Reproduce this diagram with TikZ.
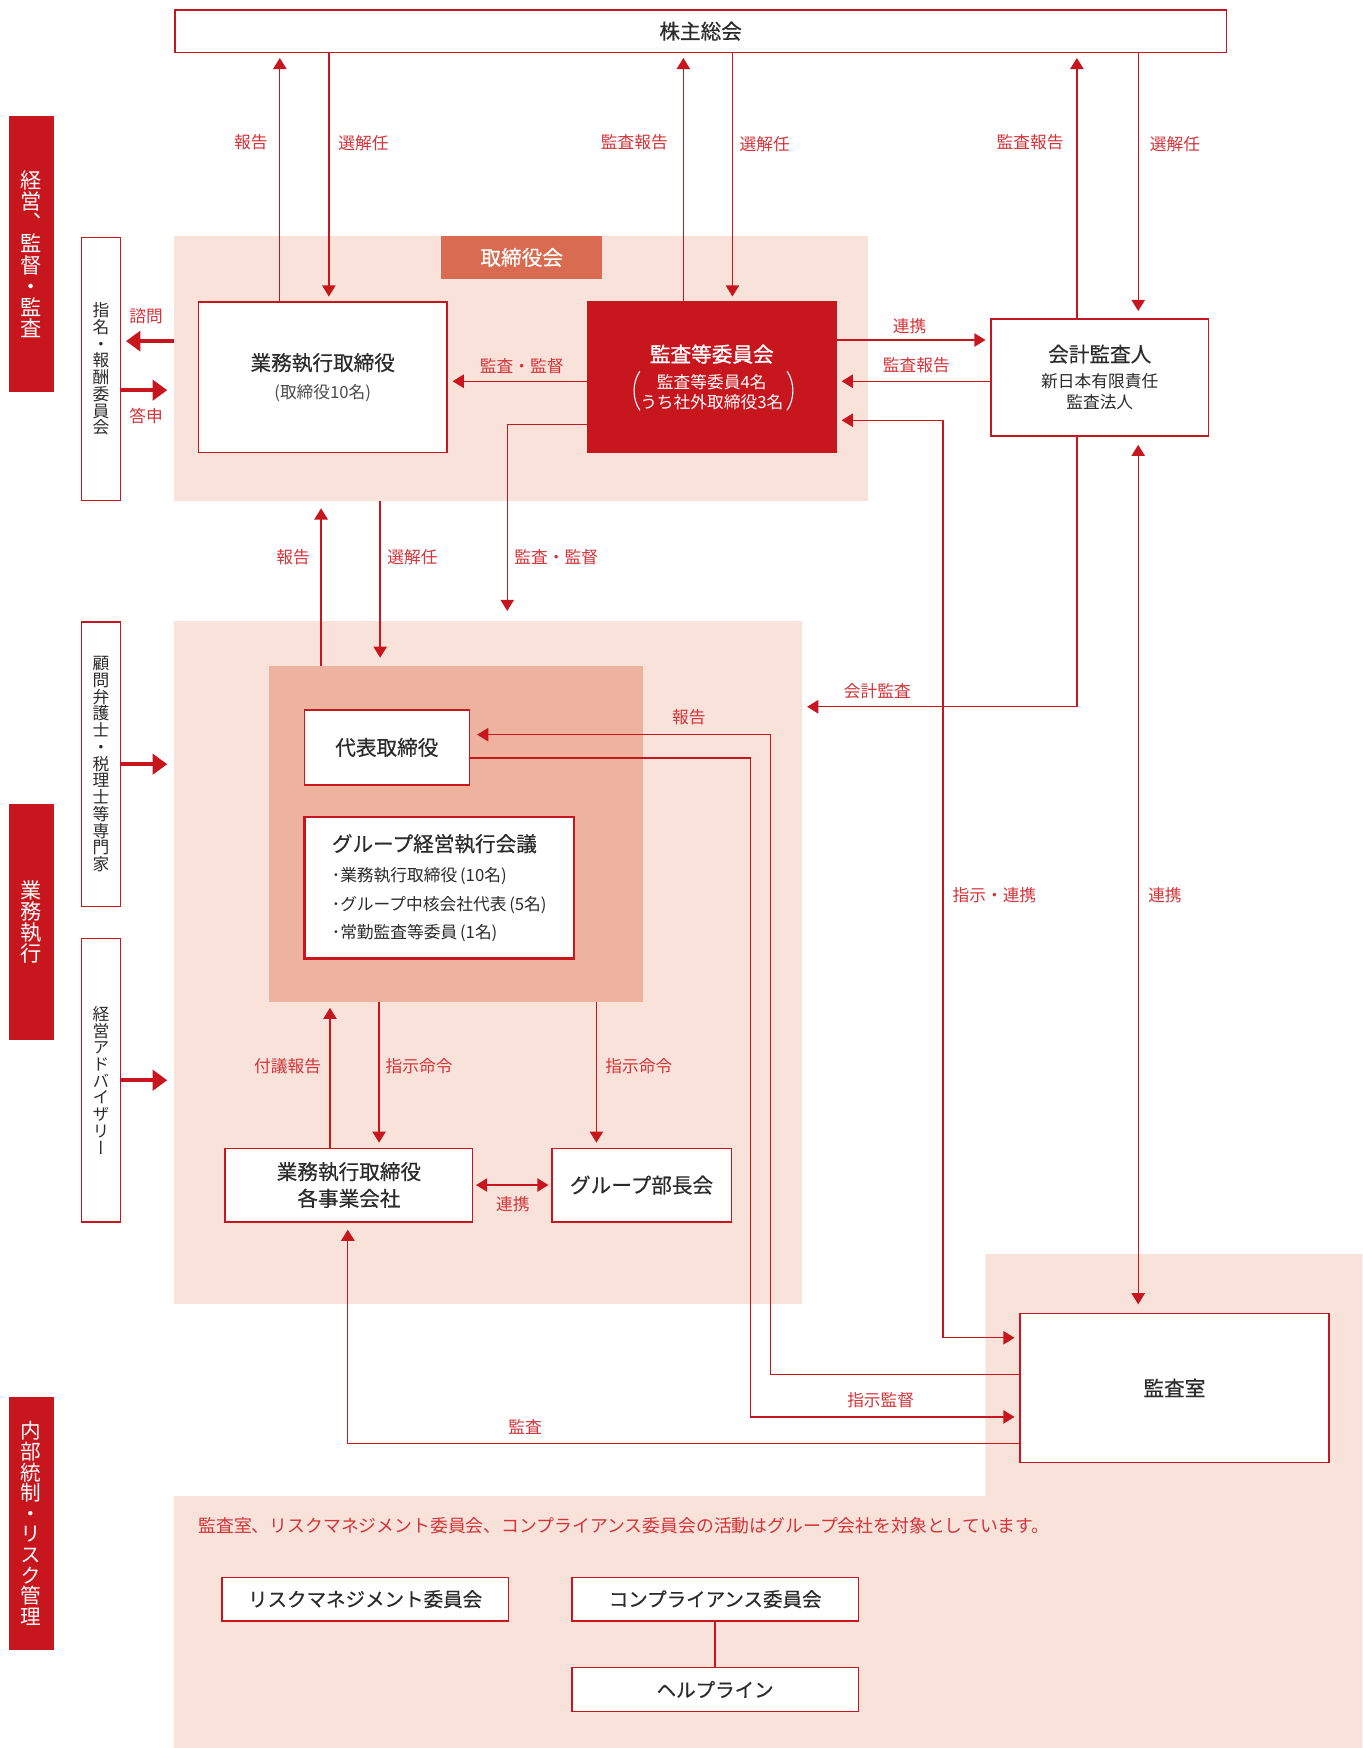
\documentclass[tikz,border=0pt]{standalone}
\usepackage{fontspec}
\setmainfont{Noto Sans CJK JP}
\newfontfamily\vjp[RawFeature=+vert]{Noto Sans CJK JP}
\newfontfamily\jpt[FakeBold=0.4]{Noto Sans CJK JP}
\newfontfamily\jptb[FakeBold=1.2]{Noto Sans CJK JP}
\usetikzlibrary{arrows.meta,calc}
\definecolor{mred}{HTML}{C8161E}
\definecolor{lred}{HTML}{D2343A}
\definecolor{lpink}{HTML}{F8E2D9}
\definecolor{salmon}{HTML}{EEB39E}
\definecolor{orng}{HTML}{D96B50}
\definecolor{dtext}{HTML}{2B2B2B}
\newcommand\jfs[1]{\fontsize{#1}{#1}\selectfont}
\ExplSyntaxOn
\seq_new:N \l_vs_seq
\NewDocumentCommand\vstack{m}{
  \seq_clear:N \l_vs_seq
  \tl_map_inline:nn {#1} { \seq_put_right:Nn \l_vs_seq {##1} }
  \seq_use:Nn \l_vs_seq {\\}
}
\ExplSyntaxOff
\begin{document}
\begin{tikzpicture}[x=1pt,y=-1pt,
  every node/.style={outer sep=0pt, inner sep=0pt},
  region/.style={fill=#1},
  box/.style={draw=mred, line width=1.3pt, fill=white, text=dtext, align=center},
  band/.style={fill=mred, text=white, align=center, minimum width=40},
  arr/.style={draw=mred, line width=1.2pt, -{Triangle[width=12pt,length=10pt]}, shorten >=5pt},
  darr/.style={draw=mred, line width=1.2pt, {Triangle[width=12pt,length=10pt]}-{Triangle[width=12pt,length=10pt]}, shorten >=5pt, shorten <=5pt},
  tarr/.style={draw=mred, line width=4pt, -{Triangle[width=18pt,length=13pt]}, shorten >=6pt},
  lbl/.style={text=lred, font=\jfs{15}}
]
\useasboundingbox (0,0) rectangle (1222,1568);
\fill[white] (0,0) rectangle (1222,1568);

% regions
\node[region=lpink, minimum width=623, minimum height=237] (boardreg) at (467.5,330.5) {};
\node[region=orng, minimum width=144, minimum height=38, text=white, font={\jpt\jfs{18.5}}] (boardlbl) at (468,231) {取締役会};
\node[region=lpink, minimum width=563, minimum height=613] (execreg) at (437.5,863.5) {};
\node[region=salmon, minimum width=336, minimum height=302] (inner) at (409,748) {};
\fill[lpink] (884,1125) -- (1222,1125) -- (1222,1568) -- (156,1568) -- (156,1342) -- (884,1342) -- cycle;

% left bands
\node[band, minimum height=248, font={\vjp\jfs{19}}] (band1) at (28,228) {\vstack{経営、監督・監査}};
\node[band, minimum height=212, font={\vjp\jfs{19}}] (band2) at (28,827) {\vstack{業務執行}};
\node[band, minimum height=227, font={\vjp\jfs{18.5}}] (band3) at (28,1366.5) {\vstack{内部統制・リスク管理}};

% vertical boxes
\node[box, minimum width=35, minimum height=236, font={\vjp\jfs{15}}] (nom) at (90.5,331) {\vstack{指名・報酬委員会}};
\node[box, minimum width=35, minimum height=255, font={\vjp\jfs{15}}] (adv) at (90.5,685.5) {\vstack{顧問弁護士・税理士等専門家}};
\node[box, minimum width=35, minimum height=254, font={\vjp\jfs{15}}] (madv) at (90.5,969) {\vstack{経営アドバイザリー}};

% main boxes
\node[box, minimum width=943, minimum height=38, font={\jpt\jfs{18.5}}] (agm) at (628.5,28) {株主総会};
\node[box, minimum width=223, minimum height=135, font={\fontsize{15}{19}\selectfont}] (exec) at (289.5,338.5)
  {{\jpt\jfs{18.5}業務執行取締役}\\[6pt]{\color{dtext!85}(取締役10名)}};
\node[box, draw=mred, fill=mred, text=white, minimum width=223, minimum height=135, font={\fontsize{15}{19}\selectfont}] (audc) at (638.5,338.5)
  {{\jptb\jfs{18.5}監査等委員会}\\[5pt]監査等委員4名\\[-1pt]うち社外取締役3名};
\node[box, minimum width=195, minimum height=105, font={\fontsize{15}{19}\selectfont}] (acct) at (986.5,338.5)
  {{\jpt\jfs{18.5}会計監査人}\\[4pt]新日本有限責任\\監査法人};
\node[box, minimum width=148, minimum height=67, font={\jpt\jfs{18.5}}] (rep) at (347,670.5) {代表取締役};
\node[box, line width=2.4pt, minimum width=242, minimum height=127, align=left, font={\fontsize{15}{25.5}\selectfont}] (gmc) at (394,796.5)
  {{\jpt\jfs{18.5}グループ経営執行会議}\\[1.5pt]･業務執行取締役\,(10名)\\･グループ中核会社代表\,(5名)\\･常勤監査等委員\,(1名)};
\node[box, minimum width=222, minimum height=66, font={\jpt\fontsize{18.5}{24}\selectfont}] (biz) at (313,1063) {業務執行取締役\\各事業会社};
\node[box, minimum width=161, minimum height=66, font={\jpt\jfs{18.5}}] (gdm) at (575.5,1063) {グループ部長会};
\node[box, minimum width=277, minimum height=134, font={\jpt\jfs{18.5}}] (audr) at (1053.5,1245) {監査室};
\node[box, minimum width=257, minimum height=39, font={\jpt\jfs{17.5}}] (risk) at (327.5,1434.5) {リスクマネジメント委員会};
\node[box, minimum width=257, minimum height=39, font={\jpt\jfs{17.5}}] (comp) at (641.5,1434.5) {コンプライアンス委員会};
\node[box, minimum width=257, minimum height=39, font={\jpt\jfs{17.5}}] (help) at (641.5,1515.5) {ヘルプライン};

% parentheses in audc
\draw[white, line width=1pt] (574,333) .. controls (567,343) and (567,358) .. (574,368);
\draw[white, line width=1pt] (706,333) .. controls (713,343) and (713,358) .. (706,368);

% top arrows
\draw[arr] ([xshift=-38.5pt]exec.north) -- ([xshift=-38.5pt]exec.north |- agm.south);
\draw[arr] ([xshift=5.5pt]exec.north |- agm.south) -- ([xshift=5.5pt]exec.north);
\draw[arr] ([xshift=-25.5pt]audc.north) -- ([xshift=-25.5pt]audc.north |- agm.south);
\draw[arr] ([xshift=18.5pt]audc.north |- agm.south) -- ([xshift=18.5pt]audc.north);
\draw[arr] ([xshift=-20.5pt]acct.north) -- ([xshift=-20.5pt]acct.north |- agm.south);
\draw[arr, shorten >=7pt] ([xshift=34.5pt]acct.north |- agm.south) -- ([xshift=34.5pt]acct.north);

% horizontal arrows in board row
\draw[arr] ([yshift=33.5pt]audc.east) -- ([yshift=33.5pt]audc.east -| acct.west);
\draw[arr] ([yshift=-3.5pt]acct.west) -- ([yshift=-3.5pt]acct.west -| audc.east);
\draw[arr] ([yshift=-3.5pt]audc.west) -- ([yshift=-3.5pt]audc.west -| exec.east);

% 指示・連携
\coordinate (xa) at (846,377);
\draw[darr] ([yshift=-38.5pt]audc.east) -- (xa) |- ([yshift=45pt]audr.west);
% 連携 vertical
\draw[darr, shorten >=8pt, shorten <=8pt] ([xshift=34.5pt]acct.south) -- ([xshift=34.5pt]acct.south |- audr.north);
% 会計監査
\draw[arr] ([xshift=-20.5pt]acct.south) |- ([yshift=229.5pt]execreg.east);
% lower 監査・監督
\draw[arr, shorten >=9pt] ([yshift=-42.5pt]audc.west) -| ([xshift=17.5pt]execreg.north);
% 報告 / 選解任 board <-> inner
\draw[arr, shorten >=7pt] ([xshift=-121pt]inner.north) -- ([xshift=-121pt]inner.north |- boardreg.south);
\draw[arr, shorten >=7pt] ([xshift=-68pt]inner.north |- boardreg.south) -- ([xshift=-68pt]inner.north);
% 報告 audr -> rep
\coordinate (xb) at (691,659);
\draw[arr, shorten >=7pt] ([yshift=12pt]audr.west) -| (xb) -- ([yshift=11.5pt]rep.east);
% 指示監督 rep -> audr
\coordinate (xc) at (673,680);
\draw[arr] ([yshift=-9.5pt]rep.east) -- (xc) |- ([yshift=-26pt]audr.west);
% 監査 audr -> biz
\draw[arr, shorten >=7pt] ([yshift=-50pt]audr.west) -| ([xshift=-1pt]biz.south);
% 付議報告 / 指示命令
\draw[arr] ([xshift=-17pt]biz.north) -- ([xshift=-17pt]biz.north |- inner.south);
\draw[arr] ([xshift=27pt]biz.north |- inner.south) -- ([xshift=27pt]biz.north);
\draw[arr] ([xshift=-40.5pt]gdm.north |- inner.south) -- ([xshift=-40.5pt]gdm.north);
% 連携 biz <-> gdm
\draw[darr, shorten >=3pt, shorten <=3pt] (biz.east) -- (gdm.west);
% thick arrows
\draw[tarr, shorten >=5pt] ([yshift=24.5pt]boardreg.west) -- ([yshift=24.5pt]boardreg.west -| nom.east);
\draw[tarr] ([yshift=-19pt]nom.east) -- ([yshift=-19pt]nom.east -| boardreg.west);
\draw[tarr] (adv.east) -- (adv.east -| execreg.west);
\draw[tarr] (madv.east) -- (madv.east -| execreg.west);
% compliance - helpline
\draw[mred, line width=1.2pt] (comp.south) -- (help.north);

% labels
\node[lbl] (l1) at (225,128) {報告};
\node[lbl] (l2) at (326,128) {選解任};
\node[lbl] (l3) at (569,128) {監査報告};
\node[lbl] (l4) at (686,129) {選解任};
\node[lbl] (l5) at (924,128) {監査報告};
\node[lbl] (l6) at (1054,129) {選解任};
\node[lbl] (l7) at (131,284) {諮問};
\node[lbl] (l8) at (131,373) {答申};
\node[lbl] (l9) at (468,328) {監査・監督};
\node[lbl] (l10) at (816,293) {連携};
\node[lbl] (l11) at (822,328) {監査報告};
\node[lbl] (l12) at (263,500) {報告};
\node[lbl] (l13) at (370,500) {選解任};
\node[lbl] (l14) at (499,500) {監査・監督};
\node[lbl] (l15) at (787,620) {会計監査};
\node[lbl] (l16) at (618,643) {報告};
\node[lbl] (l17) at (892,803) {指示・連携};
\node[lbl] (l18) at (1045,803) {連携};
\node[lbl] (l19) at (258,956) {付議報告};
\node[lbl] (l20) at (376,956) {指示命令};
\node[lbl] (l21) at (573,956) {指示命令};
\node[lbl] (l22) at (460,1080) {連携};
\node[lbl] (l23) at (790,1256) {指示監督};
\node[lbl] (l24) at (471,1280) {監査};
\node[lbl, font=\jfs{16}, anchor=west] (note) at (178,1369) {監査室、リスクマネジメント委員会、コンプライアンス委員会の活動はグループ会社を対象としています。};
\end{tikzpicture}
\end{document}
